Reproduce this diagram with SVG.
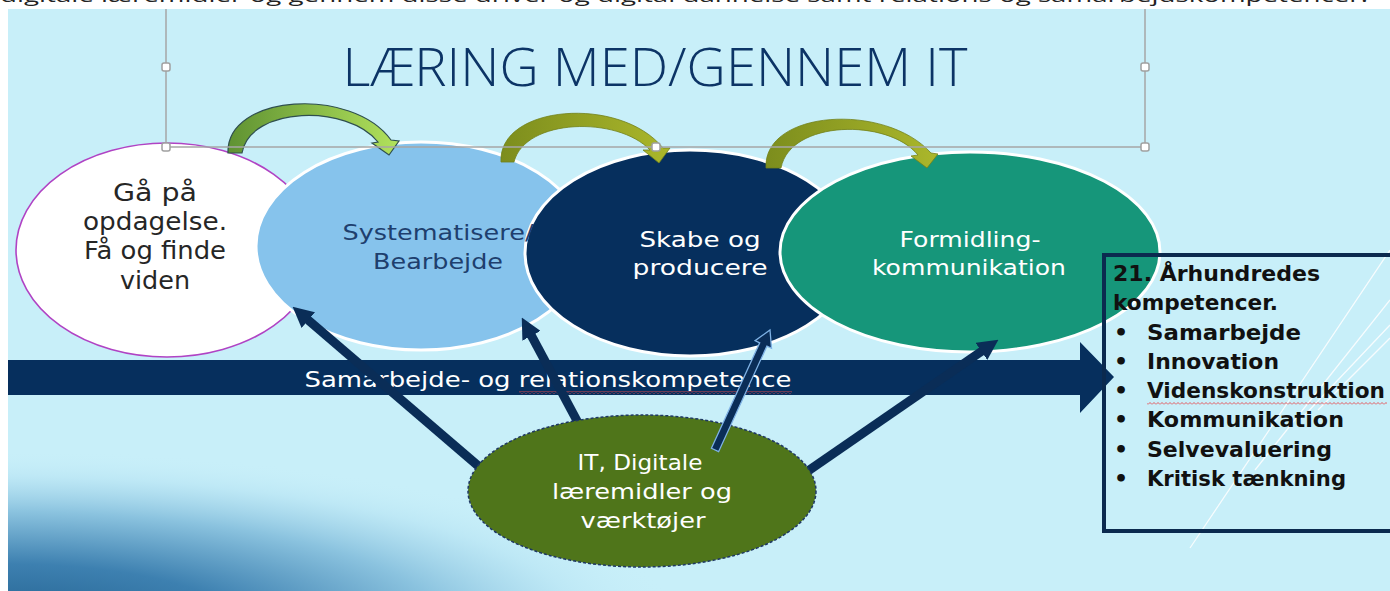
<svg xmlns="http://www.w3.org/2000/svg" width="1390" height="591" viewBox="0 0 1390 591">
<style>
.tx{font-family:"DejaVu Sans","Liberation Sans",sans-serif;text-anchor:middle}
.bx{font-family:"DejaVu Sans","Liberation Sans",sans-serif;font-weight:bold;fill:#111;font-size:22px}
.conn{stroke:#0a2d57;stroke-width:9;fill:none;marker-end:url(#ah)}
.handle{fill:#fff;stroke:#a0a0a0;stroke-width:1.5}
.deco{stroke:#fff;stroke-width:1.3;opacity:0.85}
</style>
<defs>
<marker id="ah" viewBox="0 0 10 10" refX="3" refY="5" markerWidth="2.3" markerHeight="2.3" orient="auto" markerUnits="strokeWidth">
<path d="M0,0 L10,5 L0,10 Z" fill="#0a2d57"/>
</marker>
<linearGradient id="g1" x1="0" y1="0" x2="1" y2="0">
<stop offset="0" stop-color="#5f9232"/><stop offset="1" stop-color="#b2e25c"/>
</linearGradient>
<linearGradient id="g2" x1="0" y1="0" x2="1" y2="0">
<stop offset="0" stop-color="#7c8d1d"/><stop offset="1" stop-color="#abb72b"/>
</linearGradient>
<radialGradient id="wave" gradientUnits="userSpaceOnUse" cx="0" cy="625" r="175" gradientTransform="translate(0,625) scale(3.9,1) translate(0,-625)">
<stop offset="0" stop-color="#22608e"/><stop offset="0.35" stop-color="#3d80b0"/><stop offset="0.65" stop-color="#8bc3df"/><stop offset="0.85" stop-color="#b9e5f4" stop-opacity="0.7"/><stop offset="1" stop-color="#c8eff9" stop-opacity="0"/>
</radialGradient>
<pattern id="sq" width="4" height="3" patternUnits="userSpaceOnUse">
<path d="M0,2.5 L2,0.5 L4,2.5" stroke="#e5484d" stroke-width="0.9" fill="none"/>
</pattern>
</defs>

<rect x="0" y="0" width="1390" height="591" fill="#ffffff"/>
<text x="0" y="2" font-family="Open Sans, Noto Sans, sans-serif" font-size="18" fill="#222" textLength="1368" lengthAdjust="spacingAndGlyphs">digitale læremidler og gennem disse driver og digital dannelse samt relations og samarbejdskompetencer.</text>
<rect x="8" y="9" width="1382" height="582" fill="#c8eff9"/>
<rect x="8" y="380" width="1100" height="211" fill="url(#wave)"/>

<g id="deco-lines">
<line class="deco" x1="1190" y1="548" x2="1390" y2="250"/>
<line class="deco" x1="1255" y1="470" x2="1390" y2="300"/>
<line class="deco" x1="1300" y1="420" x2="1390" y2="325"/>
<line class="deco" x1="1318" y1="410" x2="1390" y2="338"/>
</g>

<g id="node-opdagelse">
<ellipse cx="167" cy="250" rx="151" ry="107" fill="#ffffff" stroke="#b043c4" stroke-width="1.6"/>
<g class="tx" font-size="24" fill="#262626">
<text x="155" y="201" textLength="84" lengthAdjust="spacingAndGlyphs">Gå på</text>
<text x="155" y="230" textLength="144" lengthAdjust="spacingAndGlyphs">opdagelse.</text>
<text x="155" y="259" textLength="142" lengthAdjust="spacingAndGlyphs">Få og finde</text>
<text x="155" y="289" textLength="70" lengthAdjust="spacingAndGlyphs">viden</text>
</g>
</g>

<g id="node-systematisere">
<ellipse cx="421" cy="246" rx="165" ry="104" fill="#86c3ec" stroke="#ffffff" stroke-width="3"/>
</g>

<g id="node-skabe">
<ellipse cx="690" cy="253" rx="165" ry="103" fill="#062f5d" stroke="#ffffff" stroke-width="3"/>
<g class="tx" font-size="22" fill="#ffffff">
<text x="700" y="247" textLength="121" lengthAdjust="spacingAndGlyphs">Skabe og</text>
<text x="700" y="275" textLength="135" lengthAdjust="spacingAndGlyphs">producere</text>
</g>
</g>

<g id="node-systematisere-label" class="tx" font-size="22" fill="#1e3f6e">
<text x="438" y="240" textLength="191" lengthAdjust="spacingAndGlyphs">Systematisere/</text>
<text x="438" y="269" textLength="130" lengthAdjust="spacingAndGlyphs">Bearbejde</text>
</g>

<g id="node-formidling">
<ellipse cx="970" cy="252" rx="190" ry="100" fill="#16967a" stroke="#ffffff" stroke-width="3"/>
<g class="tx" font-size="22" fill="#ffffff">
<text x="970" y="247" textLength="141" lengthAdjust="spacingAndGlyphs">Formidling-</text>
<text x="969" y="275" textLength="194" lengthAdjust="spacingAndGlyphs">kommunikation</text>
</g>
</g>

<g id="cycle-arrows">
<path d="M228,153 C226,94 352,86 391,140 L399,141 L389,155 L372,143 L378,142 C348,104 250,106 242,153 Z" fill="url(#g1)" stroke="#2f4f4f" stroke-width="1.2"/>
<path d="M501,162 C498,105 620,95 663,148 L670,148 L659,163 L643,150 L650,150 C618,116 525,118 514,162 Z" fill="url(#g2)" stroke="#72821b" stroke-width="0.8"/>
<path d="M766,168 C763,110 885,102 931,153 L938,154 L927,168 L911,156 L918,155 C888,118 790,120 781,168 Z" fill="url(#g2)" stroke="#72821b" stroke-width="0.8"/>
</g>

<g id="band-arrow">
<polygon points="8,360 1080,360 1080,342 1114,377 1080,413 1080,395 8,395" fill="#062f5d"/>
<text x="548" y="387" class="tx" font-size="21" fill="#ffffff" textLength="487" lengthAdjust="spacingAndGlyphs">Samarbejde- og relationskompetence</text>
<rect x="519" y="391" width="273" height="3" fill="url(#sq)"/>
</g>

<g id="connectors">
<line class="conn" x1="483" y1="470" x2="303.6" y2="316.1"/>
<line class="conn" x1="590" y1="445" x2="528.6" y2="330.3" stroke-width="8"/>
<line class="conn" x1="792" y1="482" x2="986.5" y2="347.9"/>
</g>

<g id="node-it">
<ellipse cx="642" cy="491" rx="174" ry="76" fill="#4f751a" stroke="#1f3864" stroke-width="1.5" stroke-dasharray="3 2"/>
<g class="tx" font-size="22" fill="#ffffff">
<text x="640" y="470" textLength="125" lengthAdjust="spacingAndGlyphs">IT, Digitale</text>
<text x="642" y="499" textLength="180" lengthAdjust="spacingAndGlyphs">læremidler og</text>
<text x="643" y="528" textLength="125" lengthAdjust="spacingAndGlyphs">værktøjer</text>
</g>
</g>

<g id="connector-outlined">
<polygon points="711.4,448.3 759.7,342.8 755.1,340.7 770,330 771.5,348.3 766.9,346.2 718.6,451.7" fill="#0a2d57" stroke="#7fb2e5" stroke-width="1.3"/>
</g>

<g id="node-competencies">
<rect x="1104" y="255" width="300" height="276" fill="none" stroke="#0b2a4f" stroke-width="4"/>
<text class="bx" x="1113" y="281" textLength="207" lengthAdjust="spacingAndGlyphs">21. Århundredes</text>
<text class="bx" x="1113" y="310" textLength="165" lengthAdjust="spacingAndGlyphs">kompetencer.</text>
<g class="bx">
<text x="1114" y="340">•</text><text x="1147" y="340" textLength="154" lengthAdjust="spacingAndGlyphs">Samarbejde</text>
<text x="1114" y="369">•</text><text x="1147" y="369" textLength="132" lengthAdjust="spacingAndGlyphs">Innovation</text>
<text x="1114" y="398">•</text><text x="1147" y="398" textLength="238" lengthAdjust="spacingAndGlyphs">Videnskonstruktion</text>
<text x="1114" y="427">•</text><text x="1147" y="427" textLength="197" lengthAdjust="spacingAndGlyphs">Kommunikation</text>
<text x="1114" y="457">•</text><text x="1147" y="457" textLength="185" lengthAdjust="spacingAndGlyphs">Selvevaluering</text>
<text x="1114" y="486">•</text><text x="1147" y="486" textLength="199" lengthAdjust="spacingAndGlyphs">Kritisk tænkning</text>
</g>
<rect x="1147" y="402" width="240" height="3" fill="url(#sq)"/>
</g>

<g id="title-box">
<line x1="166" y1="9" x2="166" y2="147" stroke="#a6a6a6" stroke-width="1.5"/>
<line x1="1145" y1="9" x2="1145" y2="147" stroke="#a6a6a6" stroke-width="1.5"/>
<line x1="166" y1="147" x2="1145" y2="147" stroke="#a6a6a6" stroke-width="1.5"/>
<text x="655" y="86" font-family="Open Sans, Liberation Sans, sans-serif" font-weight="300" text-anchor="middle" font-size="54" fill="#0c3466" textLength="625" lengthAdjust="spacingAndGlyphs">LÆRING MED/GENNEM IT</text>
<rect class="handle" x="162" y="63" width="8" height="8" rx="2"/>
<rect class="handle" x="1141" y="63" width="8" height="8" rx="2"/>
<rect class="handle" x="162" y="143" width="8" height="8" rx="2"/>
<rect class="handle" x="652" y="143" width="8" height="8" rx="2"/>
<rect class="handle" x="1141" y="143" width="8" height="8" rx="2"/>
</g>
</svg>
